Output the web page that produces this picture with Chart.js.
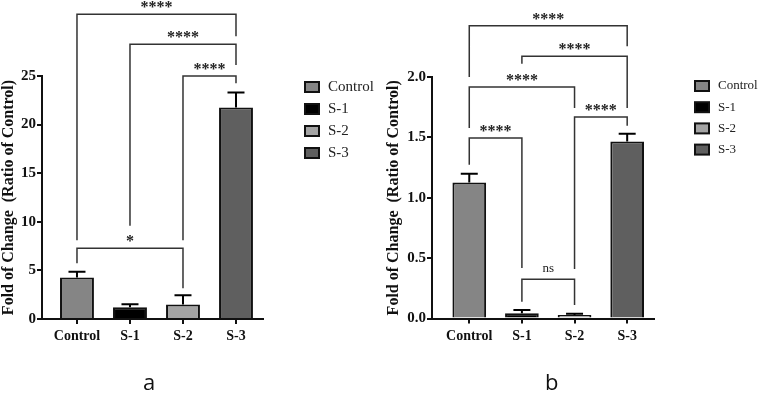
<!DOCTYPE html>
<html>
<head>
<meta charset="utf-8">
<script src="https://cdn.jsdelivr.net/npm/chart.js@4.4.0/dist/chart.umd.min.js"></script>
<style>
body{margin:0;background:#fff;width:759px;height:395px;overflow:hidden;position:relative}
canvas{position:absolute;top:0}
.tag{position:absolute;font-family:"Open Sans",sans-serif;font-size:22px;color:#111;line-height:1}
</style>
</head>
<body>
<canvas id="chartA" width="380" height="395" style="left:0"></canvas>
<canvas id="chartB" width="379" height="395" style="left:380px"></canvas>
<div class="tag" style="left:143px;top:370px">a</div>
<div class="tag" style="left:545px;top:370px">b</div>
<script>
const grupos = ['Control', 'S-1', 'S-2', 'S-3'];
const colores = ['#858585', '#000000', '#a4a4a4', '#5f5f5f'];

// panel a
const valoresA = [4.27, 1.2, 1.5, 21.75];
const erroresA = [0.6, 0.32, 0.95, 1.55];
const ticksA = [0, 5, 10, 15, 20, 25];
// [desde, hasta, altura, fin izq, fin der, etiqueta]
const comparacionesA = [
  [0, 3, 31.35, 8.1, 29.1, '****'],
  [1, 3, 28.26, 9.6, 26.13, '****'],
  [2, 3, 25.0, 8.1, 24.25, '****'],
  [0, 2, 7.27, 5.73, 3.16, '*']
];

// panel b
const valoresB = [1.126, 0.043, 0.029, 1.466];
const erroresB = [0.072, 0.027, 0.011, 0.064];
const ticksB = [0, 0.5, 1.0, 1.5, 2.0];
const comparacionesB = [
  [0, 3, 2.425, 2.0, 2.254, '****'],
  [1, 3, 2.171, 2.11, 1.743, '****'],
  [0, 2, 1.917, 1.577, 1.743, '****'],
  [2, 3, 1.668, 0.41, 1.596, '****'],
  [0, 1, 1.494, 1.273, 0.419, '****'],
  [1, 2, 0.325, 0.139, 0.112, 'ns']
];

const serif = '"Liberation Serif", "Times New Roman", serif';

const anotaciones = {
  id: 'anotaciones',
  afterDatasetsDraw(chart, args, opts) {
    const { ctx, scales: { x, y } } = chart;
    ctx.save();
    // barras de error
    ctx.strokeStyle = '#000';
    ctx.lineWidth = 2;
    opts.valores.forEach((v, i) => {
      const px = x.getPixelForValue(i);
      const y0 = y.getPixelForValue(v);
      const y1 = y.getPixelForValue(v + opts.errores[i]);
      ctx.beginPath();
      ctx.moveTo(px, y0);
      ctx.lineTo(px, y1);
      ctx.moveTo(px - 8.5, y1);
      ctx.lineTo(px + 8.5, y1);
      ctx.stroke();
    });
    // comparaciones
    ctx.strokeStyle = '#333';
    ctx.lineWidth = 1.5;
    ctx.fillStyle = '#222';
    ctx.textAlign = 'center';
    ctx.textBaseline = 'middle';
    opts.comparaciones.forEach(([a, b, h, la, lb, txt]) => {
      const xa = x.getPixelForValue(a);
      const xb = x.getPixelForValue(b);
      const yh = y.getPixelForValue(h);
      ctx.beginPath();
      ctx.moveTo(xa, y.getPixelForValue(la));
      ctx.lineTo(xa, yh);
      ctx.lineTo(xb, yh);
      ctx.lineTo(xb, y.getPixelForValue(lb));
      ctx.stroke();
      if (txt === 'ns') {
        ctx.font = '13px ' + serif;
        ctx.fillText(txt, (xa + xb) / 2, yh - 11);
      } else {
        ctx.font = 'bold 16px ' + serif;
        ctx.fillText(txt, (xa + xb) / 2, yh - 6);
      }
    });
    // leyenda
    const L = opts.leyenda;
    ctx.textAlign = 'left';
    ctx.font = L.fuente + 'px ' + serif;
    grupos.forEach((g, i) => {
      const cy = L.y + i * L.paso;
      ctx.fillStyle = colores[i];
      ctx.fillRect(L.x, cy - 5, 14, 10);
      ctx.strokeStyle = '#111';
      ctx.lineWidth = 2;
      ctx.strokeRect(L.x, cy - 5, 14, 10);
      ctx.fillStyle = '#222';
      ctx.fillText(g, L.x + 23, cy);
    });
    ctx.restore();
  }
};

function crearGrafico(id, valores, errores, comparaciones, ticks, cfg) {
  return new Chart(document.getElementById(id), {
    type: 'bar',
    data: {
      datasets: [{
        data: valores.map((v, i) => ({ x: i, y: v })),
        backgroundColor: colores,
        borderColor: '#111',
        borderWidth: 2,
        borderSkipped: 'bottom',
        barPercentage: 0.8,
        categoryPercentage: 0.8
      }]
    },
    options: {
      responsive: false,
      animation: false,
      devicePixelRatio: 1,
      layout: { padding: { top: cfg.arriba, right: cfg.derecha, left: 0, bottom: 0 } },
      plugins: {
        legend: { display: false },
        tooltip: { enabled: false },
        anotaciones: { valores, errores, comparaciones, leyenda: cfg.leyenda }
      },
      scales: {
        x: {
          type: 'linear',
          offset: false,
          min: cfg.xmin,
          max: 3.5,
          afterFit: s => { s.height = cfg.xAlto; },
          afterBuildTicks: s => { s.ticks = grupos.map((g, i) => ({ value: i })); },
          ticks: {
            autoSkip: false, maxRotation: 0, padding: 4, color: '#111',
            font: { family: serif, size: 14, weight: 'bold' },
            callback: v => grupos[v] ?? ''
          },
          grid: { drawOnChartArea: false, offset: false, tickLength: 5, color: '#111', lineWidth: 2 },
          border: { color: '#111', width: 2 }
        },
        y: {
          min: 0,
          max: ticks[ticks.length - 1],
          afterFit: s => { s.width = cfg.yAncho; },
          afterBuildTicks: s => { s.ticks = ticks.map(v => ({ value: v })); },
          ticks: {
            padding: 1, color: '#111',
            font: { family: serif, size: 15, weight: 'bold' },
            callback: cfg.formato
          },
          grid: { drawOnChartArea: false, tickLength: 5, color: '#111', lineWidth: 2 },
          border: { color: '#111', width: 2 },
          title: {
            display: true,
            text: 'Fold of Change  (Ratio of Control)',
            color: '#111',
            font: { family: serif, size: 16, weight: 'bold' },
            padding: { top: cfg.tituloPad, bottom: 0 }
          }
        }
      }
    },
    plugins: [anotaciones]
  });
}

crearGrafico('chartA', valoresA, erroresA, comparacionesA, ticksA, {
  arriba: 76, derecha: 117.5, xAlto: 76, yAncho: 42, xmin: -0.66, tituloPad: -1,
  formato: v => v,
  leyenda: { x: 305, y: 87, paso: 22, fuente: 15 }
});

crearGrafico('chartB', valoresB, erroresB, comparacionesB, ticksB, {
  arriba: 77, derecha: 105.5, xAlto: 76.5, yAncho: 52, xmin: -0.708, tituloPad: 4.5,
  formato: v => v.toFixed(1),
  leyenda: { x: 315, y: 86, paso: 21.2, fuente: 13 }
});
</script>
</body>
</html>
